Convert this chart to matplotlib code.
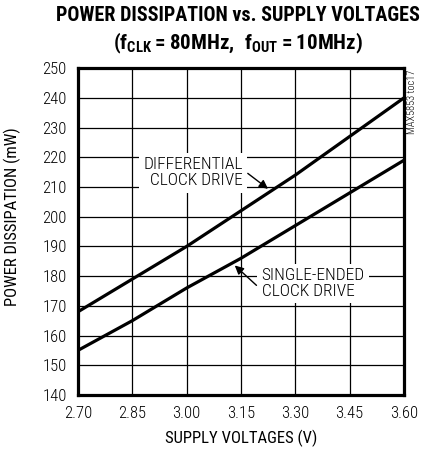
import matplotlib
matplotlib.use("Agg")
import matplotlib.pyplot as plt

# supply voltage sweep and measured dissipation
voltages = [2.70, 2.85, 3.00, 3.15, 3.30, 3.45, 3.60]
differential_mw = [168, 179, 190, 202, 214, 227, 240]
single_ended_mw = [155, 165, 176, 186, 197, 208, 219]

x_ticks = [2.70, 2.85, 3.00, 3.15, 3.30, 3.45, 3.60]
y_ticks = list(range(140, 251, 10))

plt.rcParams["font.family"] = ["Roboto Condensed", "DejaVu Sans"]
plt.rcParams["font.weight"] = "light"
plt.rcParams["mathtext.fontset"] = "custom"
plt.rcParams["mathtext.bf"] = "Roboto Condensed:bold"
plt.rcParams["mathtext.rm"] = "Roboto Condensed:bold"

fig = plt.figure(figsize=(4.26, 4.55), dpi=100)
ax = fig.add_axes([0.183, 0.132, 0.765, 0.718])

ax.plot(voltages, differential_mw, color="black", lw=2.3, solid_capstyle="butt", zorder=3)
ax.plot(voltages, single_ended_mw, color="black", lw=2.3, solid_capstyle="butt", zorder=3)

ax.set_xlim(2.70, 3.60)
ax.set_ylim(140, 250)
ax.set_xticks(x_ticks)
ax.set_xticklabels([f"{v:.2f}" for v in x_ticks])
ax.set_yticks(y_ticks)
ax.tick_params(length=0, labelsize=12, pad=8)
ax.grid(True, color="black", lw=0.9)
for sp in ax.spines.values():
    sp.set_linewidth(2.3)

ax.set_xlabel("SUPPLY VOLTAGES (V)", fontsize=12, labelpad=6)
ax.set_ylabel("POWER DISSIPATION (mW)", fontsize=12)
ax.yaxis.set_label_coords(-0.176, 0.546)

box = dict(facecolor="white", edgecolor="none", pad=3)
ax.text(3.155, 214.8, "DIFFERENTIAL\nCLOCK DRIVE", ha="right", va="center",
        multialignment="right", fontsize=12.5, linespacing=1.1, bbox=box, zorder=4)
ax.text(3.207, 177.5, "SINGLE-ENDED\nCLOCK DRIVE", ha="left", va="center",
        multialignment="left", fontsize=12.5, linespacing=1.1, bbox=box, zorder=4)

arrow = dict(arrowstyle="-|>", color="black", lw=1.0, mutation_scale=13, shrinkA=0, shrinkB=0)
ax.annotate("", xy=(3.225, 209.4), xytext=(3.169, 214.6), arrowprops=arrow, zorder=5)
ax.annotate("", xy=(3.133, 183.6), xytext=(3.193, 176.9), arrowprops=arrow, zorder=5)

fig.text(0.966, 0.848, "MAX5853 toc17", rotation=90, ha="center", va="top", fontsize=7.5)

fig.text(0.558, 0.967, "POWER DISSIPATION vs. SUPPLY VOLTAGES",
         ha="center", va="center", fontsize=14.5, fontweight="bold")
fig.text(0.558, 0.905, r"$\mathbf{(f_{CLK} = 80MHz,\ f_{OUT} = 10MHz)}$",
         ha="center", va="center", fontsize=15)

fig.savefig("out.png", dpi=100)
